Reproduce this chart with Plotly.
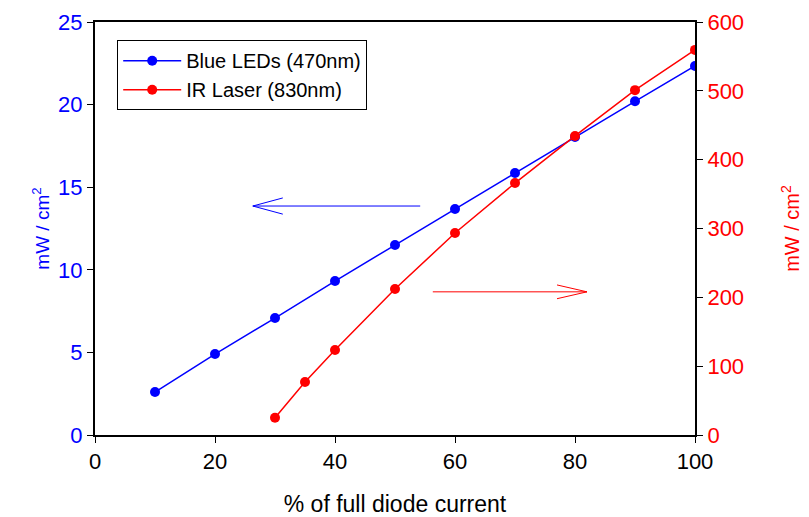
import plotly.graph_objects as go

blue_x = [10, 20, 30, 40, 50, 60, 70, 80, 90, 100]
blue_y = [2.6, 4.9, 7.08, 9.32, 11.5, 13.68, 15.86, 18.04, 20.2, 22.34]
red_x = [30, 35, 40, 50, 60, 70, 80, 90, 100]
red_y = [25, 77, 123.5, 212, 293.5, 366, 434.5, 501, 559.5]

x_ticks = [0, 20, 40, 60, 80, 100]
left_ticks = [0, 5, 10, 15, 20, 25]
right_ticks = [0, 100, 200, 300, 400, 500, 600]

FONT = "Liberation Sans, Arial, sans-serif"
BLUE = "#0000ff"
RED = "#ff0000"

fig = go.Figure()
fig.add_trace(go.Scatter(x=blue_x, y=blue_y, mode="lines+markers", name="Blue LEDs (470nm)",
                         line=dict(color=BLUE, width=1.5), marker=dict(color=BLUE, size=10)))
fig.add_trace(go.Scatter(x=red_x, y=red_y, mode="lines+markers", name="IR Laser (830nm)", yaxis="y2",
                         line=dict(color=RED, width=1.5), marker=dict(color=RED, size=10)))

# arrows (open V heads)
fig.add_shape(type="line", xref="x", yref="y", x0=54.2, x1=26.3, y0=13.86, y1=13.86,
              line=dict(color=BLUE, width=1))
fig.add_shape(type="path", xref="x", yref="y",
              path="M 31.3 14.35 L 26.3 13.86 L 31.3 13.37", line=dict(color=BLUE, width=1))
fig.add_shape(type="line", xref="x", yref="y2", x0=56.3, x1=82.0, y0=208, y1=208,
              line=dict(color=RED, width=1))
fig.add_shape(type="path", xref="x", yref="y2",
              path="M 77.0 218 L 82.0 208 L 77.0 198", line=dict(color=RED, width=1))

fig.update_layout(
    width=801, height=509,
    margin=dict(l=87, r=114, t=14, b=82, autoexpand=False),
    paper_bgcolor="white", plot_bgcolor="white",
    font=dict(family=FONT, size=20, color="black"),
    showlegend=True,
    legend=dict(x=0.037, y=0.956, xanchor="left", yanchor="top",
                bordercolor="black", borderwidth=1, bgcolor="white",
                font=dict(family=FONT, size=20, color="black"),
                itemwidth=58, tracegroupgap=0),
    xaxis=dict(range=[0, 100], tickvals=x_ticks, ticks="outside", ticklen=6,
               showline=True, linecolor="black", linewidth=2, mirror=True,
               showgrid=False, zeroline=False, tickcolor="black", automargin=False,
               title=dict(text="% of full diode current", font=dict(size=23), standoff=25),
               tickfont=dict(size=22)),
    yaxis=dict(range=[0, 25], tickvals=left_ticks, ticks="outside", ticklen=6,
               showline=True, linecolor="black", linewidth=2,
               showgrid=False, zeroline=False, tickcolor="black", automargin=False,
               tickfont=dict(color=BLUE, size=22),
               title=dict(text="mW / cm<sup>2</sup>", font=dict(color=BLUE, size=19), standoff=3)),
    yaxis2=dict(range=[0, 600], tickvals=right_ticks, ticks="outside", ticklen=6,
                overlaying="y", side="right",
                showline=True, linecolor="black", linewidth=2,
                showgrid=False, zeroline=False, tickcolor="black", automargin=False,
                tickfont=dict(color=RED, size=22),
                title=dict(text="mW / cm<sup>2</sup>", font=dict(color=RED, size=20), standoff=42)),
)

fig.write_html("out.html")
